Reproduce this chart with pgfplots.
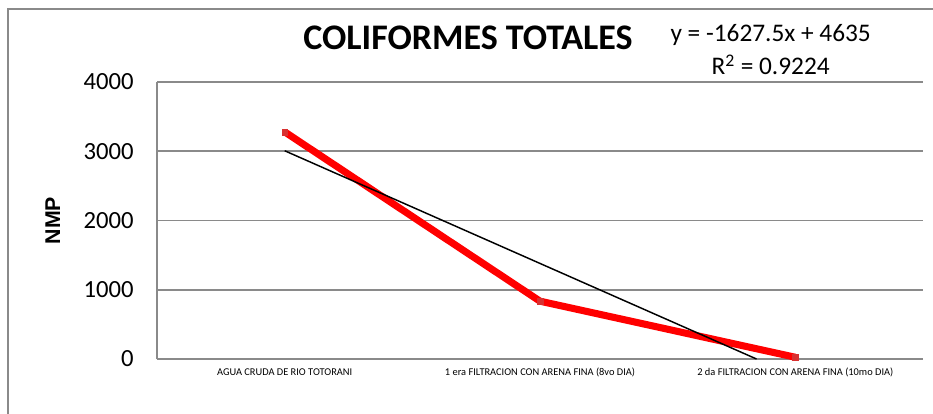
\documentclass[border=0pt]{standalone}
\usepackage{pgfplots}
\pgfplotsset{compat=1.18}
\usepackage{fontspec}
\setmainfont{Carlito}
\newfontfamily\arialbold{Liberation Sans}[BoldFont={* Bold}]
\definecolor{gridgray}{HTML}{8A8A8A}
\definecolor{mkred}{HTML}{D83030}
\begin{document}
\begin{tikzpicture}
\useasboundingbox (0pt,0pt) rectangle (699.75pt,-310.5pt);
\draw[gridgray, line width=1.5pt] (6pt,-330pt) -- (6pt,-6.75pt) -- (720pt,-6.75pt);
\begin{axis}[
  at={(117.75pt,-269.25pt)}, anchor=origin,
  scale only axis, width=574.5pt, height=207.75pt,
  xmin=0.5, xmax=3.5, ymin=0, ymax=4000,
  clip=false,
  axis x line*=bottom, axis y line*=left,
  axis line style={gridgray, line width=1.3pt, -},
  xtick={1,2,3},
  xticklabels={AGUA CRUDA DE RIO TOTORANI, 1 era FILTRACION CON ARENA FINA (8vo DIA), 2 da FILTRACION CON ARENA FINA (10mo DIA)},
  xticklabel style={font=\fontsize{7.8}{9}\selectfont, yshift=-3.5pt},
  ytick={0,1000,2000,3000,4000},
  yticklabel style={font=\fontsize{18.5}{21}\selectfont, xshift=-14pt},
  /pgf/number format/assume math mode=true,
  /pgf/number format/1000 sep={},
  major tick length=0pt,
  ymajorgrids, grid style={gridgray, line width=1.3pt},
]
\addplot[red, line width=5.3pt, mark=square*, mark size=2.2pt, mark options={fill=mkred, draw=mkred, line width=0.3pt}] coordinates {(1,3280) (2,835) (3,25)};
\addplot[black, line width=1.1pt, no marks] coordinates {(1,3007.5) (2.848,0)};
\end{axis}
\node[rotate=90, font=\fontsize{16}{18}\selectfont\arialbold\bfseries] at (39.5pt,-165.5pt) {NMP};
\node[font=\fontsize{27}{30}\selectfont\bfseries] at (351pt,-28pt) {COLIFORMES TOTALES};
\node[font=\fontsize{19}{21}\selectfont] at (578pt,-26.5pt) {y = -1627.5x + 4635};
\node[font=\fontsize{19}{21}\selectfont] at (578pt,-48.5pt) {R\textsuperscript{2} = 0.9224};
\end{tikzpicture}
\end{document}
